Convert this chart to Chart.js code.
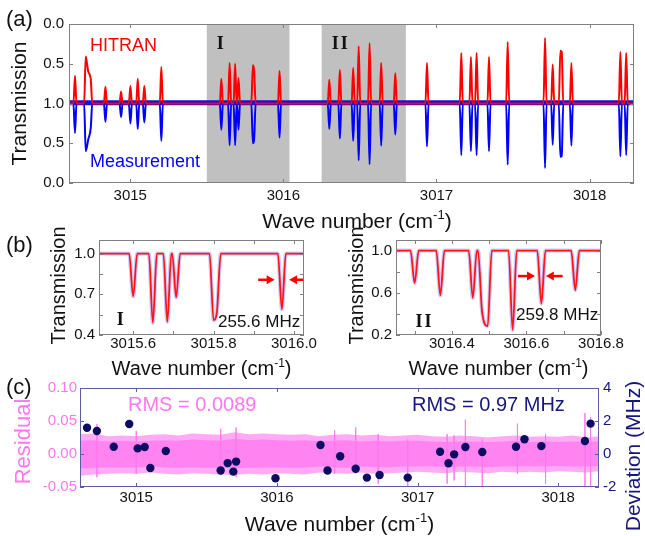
<!DOCTYPE html>
<html>
<head>
<meta charset="utf-8">
<script src="https://cdn.jsdelivr.net/npm/chart.js@4.4.1/dist/chart.umd.min.js"></script>
<style>
  html, body { margin: 0; padding: 0; background: #fff; }
  #wrap { position: relative; width: 645px; height: 536px; }
  #wrap canvas { position: absolute; left: 0; top: 0; }
</style>
</head>
<body>
<div id="wrap">
  <canvas id="ca" width="645" height="536"></canvas>
  <canvas id="cb1" width="645" height="536"></canvas>
  <canvas id="cb2" width="645" height="536"></canvas>
  <canvas id="cc" width="645" height="536"></canvas>
</div>
<script>
// ---- panel (a): overview, HITRAN up / measurement down ----
const lineCenter = [3014.639, 3014.709, 3014.726, 3014.742, 3014.838, 3014.940, 3015.001, 3015.049, 3015.092, 3015.203,
  3015.595, 3015.649, 3015.685, 3015.707, 3015.801, 3015.809, 3015.975, 3016.300, 3016.369, 3016.456,
  3016.492, 3016.563, 3016.639, 3016.731, 3016.938, 3017.162, 3017.225, 3017.262, 3017.343, 3017.465,
  3017.709, 3017.759, 3017.809, 3017.818, 3017.881, 3018.201, 3018.239];
const hitranT = [0.65, 0.41, 0.60, 0.69, 0.79, 0.85, 0.78, 0.69, 0.78, 0.54,
  0.69, 0.49, 0.50, 0.68, 0.52, 0.58, 0.59, 0.70, 0.58, 0.555,
  0.28, 0.24, 0.49, 0.62, 0.49, 0.365, 0.415, 0.365, 0.415, 0.225,
  0.175, 0.51, 0.335, 0.35, 0.49, 0.35, 0.365];
const measT = [0.63, 0.40, 0.55, 0.69, 0.77, 0.83, 0.75, 0.68, 0.76, 0.53,
  0.67, 0.475, 0.475, 0.67, 0.50, 0.55, 0.57, 0.68, 0.56, 0.53,
  0.285, 0.235, 0.47, 0.61, 0.46, 0.35, 0.40, 0.35, 0.40, 0.23,
  0.19, 0.48, 0.33, 0.34, 0.47, 0.335, 0.35];
const regionStart = [3015.50, 3016.25];
const regionEnd = [3016.04, 3016.80];
const regionName = ['I', 'II'];
const aXTicks = [3015, 3016, 3017, 3018];
const aYTicks = [-1, -0.5, 0, 0.5, 1];

// ---- panel (b): zooms of regions I and II ----
const b1Center = [3015.600, 3015.649, 3015.685, 3015.707, 3015.800, 3015.808, 3015.970];
const b1T = [0.685, 0.490, 0.497, 0.678, 0.510, 0.560, 0.590];
const b2Center = [3016.300, 3016.369, 3016.456, 3016.481, 3016.496, 3016.563, 3016.640, 3016.731];
const b2T = [0.693, 0.576, 0.551, 0.420, 0.285, 0.247, 0.498, 0.624];
const b1XTicks = [3015.6, 3015.8, 3016.0];
const b1XMinor = [3015.6, 3015.7, 3015.8, 3015.9, 3016.0];
const b1YTicks = [0.4, 0.7, 1.0];
const b1YMinor = [0.4, 0.55, 0.7, 0.85, 1.0];
const b2XTicks = [3016.4, 3016.6, 3016.8];
const b2XMinor = [3016.3, 3016.4, 3016.5, 3016.6, 3016.7, 3016.8];
const b2YTicks = [0.2, 0.6, 1.0];
const b2YMinor = [0.2, 0.4, 0.6, 0.8, 1.0];
const b1Width = ['255.6 MHz'];
const b2Width = ['259.8 MHz'];

// ---- panel (c): residual band and line-centre deviations ----
const resX = [3014.6, 3014.7, 3014.8, 3014.9, 3015.0, 3015.1, 3015.2, 3015.3, 3015.4, 3015.5,
  3015.6, 3015.7, 3015.8, 3015.9, 3016.0, 3016.1, 3016.2, 3016.3, 3016.4, 3016.5,
  3016.6, 3016.7, 3016.8, 3016.9, 3017.0, 3017.1, 3017.2, 3017.3, 3017.4, 3017.5,
  3017.6, 3017.7, 3017.8, 3017.9, 3018.0, 3018.1, 3018.2, 3018.3];
const resOuterHi = [0.030, 0.031, 0.027, 0.028, 0.027, 0.029, 0.030, 0.028, 0.031, 0.030,
  0.029, 0.033, 0.030, 0.031, 0.030, 0.029, 0.030, 0.027, 0.029, 0.030,
  0.028, 0.029, 0.027, 0.028, 0.029, 0.027, 0.026, 0.028, 0.027, 0.025,
  0.027, 0.028, 0.026, 0.027, 0.026, 0.028, 0.025, 0.027];
const resOuterLo = [-0.033, -0.031, -0.030, -0.029, -0.030, -0.028, -0.030, -0.031, -0.029, -0.030,
  -0.031, -0.032, -0.030, -0.031, -0.029, -0.030, -0.031, -0.028, -0.029, -0.030,
  -0.028, -0.030, -0.029, -0.028, -0.027, -0.028, -0.029, -0.027, -0.028, -0.029,
  -0.027, -0.028, -0.027, -0.028, -0.026, -0.027, -0.028, -0.026];
const resInnerHi = [0.020, 0.021, 0.019, 0.020, 0.019, 0.020, 0.021, 0.020, 0.022, 0.021,
  0.020, 0.023, 0.021, 0.022, 0.021, 0.020, 0.021, 0.019, 0.020, 0.021,
  0.019, 0.020, 0.019, 0.020, 0.020, 0.019, 0.018, 0.019, 0.019, 0.018,
  0.019, 0.020, 0.018, 0.019, 0.018, 0.019, 0.018, 0.019];
const resInnerLo = [-0.022, -0.021, -0.020, -0.020, -0.020, -0.019, -0.020, -0.021, -0.020, -0.021,
  -0.021, -0.022, -0.021, -0.021, -0.020, -0.021, -0.021, -0.019, -0.020, -0.021,
  -0.019, -0.020, -0.020, -0.019, -0.019, -0.019, -0.020, -0.019, -0.019, -0.020,
  -0.019, -0.019, -0.019, -0.019, -0.018, -0.019, -0.019, -0.018];
const spikeX = [3014.72, 3015.00, 3015.60, 3015.71, 3016.41, 3016.56, 3016.72, 3016.93, 3017.21, 3017.26,
  3017.34, 3017.46, 3017.71, 3017.91, 3018.19, 3018.23];
const spikeHi = [0.045, 0.035, 0.038, 0.040, 0.036, 0.040, 0.030, 0.022, 0.030, 0.028,
  0.052, 0.022, 0.046, 0.030, 0.062, 0.056];
const spikeLo = [-0.035, -0.030, -0.032, -0.035, -0.030, -0.030, -0.045, -0.050, -0.045, -0.040,
  -0.050, -0.050, -0.030, -0.045, -0.050, -0.050];
const devX = [3014.65, 3014.72, 3014.84, 3014.95, 3015.01, 3015.06, 3015.10, 3015.21, 3015.60, 3015.65,
  3015.69, 3015.71, 3015.99, 3016.31, 3016.36, 3016.45, 3016.56, 3016.64, 3016.73, 3016.93,
  3017.16, 3017.22, 3017.26, 3017.34, 3017.46, 3017.70, 3017.76, 3017.88, 3018.19, 3018.23];
const devMHz = [1.59, 1.39, 0.44, 1.82, 0.34, 0.42, -0.85, 0.18, -1.00, -0.55,
  -1.07, -0.46, -1.47, 0.55, -1.00, -0.14, -0.89, -1.43, -1.27, -1.43,
  0.14, -0.56, -0.02, 0.42, 0.12, 0.44, 0.89, 0.48, 0.79, 1.84];
const cXTicks = [3015, 3016, 3017, 3018];
const cYTicks = [-0.05, 0, 0.05, 0.10];
const cY2Ticks = [-2, 0, 2, 4];
const rmsLabels = ['RMS = 0.0089', 'RMS = 0.97 MHz'];

const W = 645, H = 536;
const X_MIN = 3014.6, X_MAX = 3018.29;
const SANS = '"Liberation Sans", Arial, sans-serif';
const SERIF = '"Liberation Serif", "Times New Roman", serif';
const RED = '#ff0000', BLUE = '#0000ff', PINK = '#ff77ee', NAVY = '#16167e';

Chart.defaults.font.family = SANS;

// builds the drawn trace from the read line centres and transmissions
function profile(centers, vals, w, xmin, xmax) {
  const pts = [{x: xmin, y: 1}];
  for (let i = 0; i < centers.length; i++) {
    const c = centers[i];
    const joinPrev = i > 0 && centers[i - 1] + w > c - w;
    const joinNext = i < centers.length - 1 && c + w > centers[i + 1] - w;
    if (!joinPrev) pts.push({x: c - w, y: 1});
    pts.push({x: c, y: vals[i]});
    if (!joinNext) pts.push({x: c + w, y: 1});
  }
  pts.push({x: xmax, y: 1});
  return pts;
}

// axis boxes reach from the canvas edge to the plot frame, so labels are not clipped
function scale(pos, size, min, max, ticks, fmt, padding, color) {
  return {
    type: 'linear', position: pos, min, max,
    grid: {display: false, drawTicks: false}, border: {display: false},
    ticks: {autoSkip: false, maxRotation: 0, padding, color: color || '#111',
      font: {family: SANS, size: 15}, callback: fmt},
    afterBuildTicks: s => { s.ticks = ticks.map(v => ({value: v})); },
    afterFit: s => { if (s.isHorizontal()) s.height = size; else s.width = size; }
  };
}

function baseOptions(area, scales, hasRight) {
  return {
    responsive: false, animation: false, devicePixelRatio: 1, events: [],
    layout: {padding: {left: 0, top: area.top, right: hasRight ? 0 : W - area.right, bottom: 0}},
    plugins: {legend: {display: false}, tooltip: {enabled: false}},
    elements: {point: {radius: 0}},
    scales
  };
}

function frame(chart, color, xMarks, yMarks, y2Marks) {
  const {ctx, chartArea: a, scales} = chart;
  const len = 4;
  ctx.save();
  ctx.strokeStyle = color;
  ctx.lineWidth = 1;
  ctx.strokeRect(a.left + 0.5, a.top + 0.5, a.right - a.left - 1, a.bottom - a.top - 1);
  ctx.beginPath();
  xMarks.forEach(v => {
    const p = Math.round(scales.x.getPixelForValue(v)) + 0.5;
    ctx.moveTo(p, a.bottom); ctx.lineTo(p, a.bottom - len);
    ctx.moveTo(p, a.top); ctx.lineTo(p, a.top + len);
  });
  yMarks.forEach(v => {
    const p = Math.round(scales.y.getPixelForValue(v)) + 0.5;
    ctx.moveTo(a.left, p); ctx.lineTo(a.left + len, p);
    if (!y2Marks) { ctx.moveTo(a.right, p); ctx.lineTo(a.right - len, p); }
  });
  if (y2Marks) {
    y2Marks.forEach(v => {
      const p = Math.round(scales.y2.getPixelForValue(v)) + 0.5;
      ctx.moveTo(a.right, p); ctx.lineTo(a.right - len, p);
    });
  }
  ctx.stroke();
  ctx.restore();
}

function text(ctx, str, x, y, font, color, spacing) {
  ctx.save();
  ctx.font = font; ctx.fillStyle = color;
  if (spacing) ctx.letterSpacing = spacing;
  ctx.textAlign = 'left'; ctx.textBaseline = 'middle';
  ctx.fillText(str, x, y);
  ctx.restore();
}

function vText(ctx, str, cx, cy, font, color) {
  ctx.save();
  ctx.translate(cx, cy); ctx.rotate(-Math.PI / 2);
  ctx.font = font; ctx.fillStyle = color;
  ctx.textAlign = 'center'; ctx.textBaseline = 'middle';
  ctx.fillText(str, 0, 0);
  ctx.restore();
}

// "Wave number (cm-1)" with a raised -1
function waveTitle(ctx, cx, baseY, size) {
  const a = 'Wave number (cm', s = '-1', b = ')';
  ctx.save();
  ctx.fillStyle = '#111'; ctx.textBaseline = 'alphabetic'; ctx.textAlign = 'left';
  ctx.font = size + 'px ' + SANS;
  const wa = ctx.measureText(a).width, wb = ctx.measureText(b).width;
  ctx.font = Math.round(size * 0.6) + 'px ' + SANS;
  const ws = ctx.measureText(s).width;
  let x = cx - (wa + ws + wb) / 2;
  ctx.font = size + 'px ' + SANS;
  ctx.fillText(a, x, baseY); x += wa;
  ctx.font = Math.round(size * 0.6) + 'px ' + SANS;
  ctx.fillText(s, x, baseY - size * 0.42); x += ws;
  ctx.font = size + 'px ' + SANS;
  ctx.fillText(b, x, baseY);
  ctx.restore();
}

function arrow(ctx, x0, x1, y, color) {
  const d = Math.sign(x1 - x0);
  ctx.save();
  ctx.strokeStyle = color; ctx.fillStyle = color; ctx.lineWidth = 2.5;
  ctx.beginPath(); ctx.moveTo(x0, y); ctx.lineTo(x1 - d * 6, y); ctx.stroke();
  ctx.beginPath();
  ctx.moveTo(x1, y); ctx.lineTo(x1 - d * 8, y - 4.5); ctx.lineTo(x1 - d * 8, y + 4.5);
  ctx.closePath(); ctx.fill();
  ctx.restore();
}

// ================= (a) =================
const areaA = {left: 69, top: 24, right: 634, bottom: 183};
const redA = profile(lineCenter, hitranT, 0.010, X_MIN, X_MAX).map(p => ({x: p.x, y: 1 - p.y}));
const blueA = profile(lineCenter, measT, 0.010, X_MIN, X_MAX).map(p => ({x: p.x, y: p.y - 1}));

new Chart(document.getElementById('ca'), {
  type: 'line',
  data: {datasets: [
    {data: redA, borderColor: RED, borderWidth: 2, cubicInterpolationMode: 'monotone'},
    {data: blueA, borderColor: BLUE, borderWidth: 2, cubicInterpolationMode: 'monotone'},
    {data: [{x: X_MIN, y: 0.008}, {x: X_MAX, y: 0.008}], borderColor: '#1414d8', borderWidth: 5}
  ]},
  options: baseOptions(areaA, {
    x: scale('bottom', H - areaA.bottom, X_MIN, X_MAX, aXTicks, v => String(v), 4),
    y: scale('left', areaA.left, -1, 1, aYTicks, v => (1 - Math.abs(v)).toFixed(1), 5)
  }),
  plugins: [{
    id: 'decorA',
    beforeDatasetsDraw(chart) {
      const {ctx, chartArea: a, scales: {x}} = chart;
      ctx.save(); ctx.fillStyle = '#c0c0c0';
      regionStart.forEach((s, i) => {
        const x0 = x.getPixelForValue(s), x1 = x.getPixelForValue(regionEnd[i]);
        ctx.fillRect(x0, a.top, x1 - x0, a.bottom - a.top);
      });
      ctx.restore();
    },
    afterDraw(chart) {
      const {ctx, chartArea: a, scales: {x}} = chart;
      frame(chart, '#808080', aXTicks, aYTicks);
      regionStart.forEach((s, i) => {
        text(ctx, regionName[i], x.getPixelForValue(s) + 10, a.top + 20, 'bold 18px ' + SERIF, '#111', '2px');
      });
      text(ctx, 'HITRAN', a.left + 21, a.top + 22, '18px ' + SANS, RED);
      text(ctx, 'Measurement', a.left + 21, a.bottom - 21, '18px ' + SANS, BLUE);
      text(ctx, '(a)', 6, 20, '22px ' + SANS, '#111');
      vText(ctx, 'Transmission', 20, (a.top + a.bottom) / 2, '21px ' + SANS, '#111');
      waveTitle(ctx, 357, 228, 21);
    }
  }]
});

// ================= (b) =================
function bPanel(id, area, centers, trans, w, xmin, xmax, ymin, ymax, xt, xm, yt, ym, label, ann) {
  const trace = profile(centers, trans, w, xmin, xmax);
  new Chart(document.getElementById(id), {
    type: 'line',
    data: {datasets: [
      {data: trace, borderColor: '#ff1515', borderWidth: 1.8, cubicInterpolationMode: 'monotone'},
      {data: trace, borderColor: 'rgba(110,110,255,0.35)', borderWidth: 4, cubicInterpolationMode: 'monotone'}
    ]},
    options: baseOptions(area, {
      x: scale('bottom', H - area.bottom, xmin, xmax, xt, v => v.toFixed(1), 0),
      y: scale('left', area.left, ymin, ymax, yt, v => v.toFixed(1), 4)
    }),
    plugins: [{
      id: id + 'Decor',
      afterDraw(chart) {
        const {ctx, chartArea: a, scales: {x, y}} = chart;
        frame(chart, '#808080', xm, ym);
        ann.arrows.forEach(r => arrow(ctx, x.getPixelForValue(r[0]), x.getPixelForValue(r[1]), y.getPixelForValue(ann.arrowY), RED));
        text(ctx, ann.width, x.getPixelForValue(ann.textX), y.getPixelForValue(ann.textY), '17px ' + SANS, '#111');
        text(ctx, label, x.getPixelForValue(ann.labelX), y.getPixelForValue(ann.labelY), 'bold 18px ' + SERIF, '#111', '2px');
        vText(ctx, 'Transmission', a.left - ann.titleGap, (a.top + a.bottom) / 2 - 2, '20px ' + SANS, '#111');
        waveTitle(ctx, (a.left + a.right) / 2, 375, 20);
        if (ann.panel) text(ctx, ann.panel, 6, 246, '22px ' + SANS, '#111');
      }
    }]
  });
}

bPanel('cb1', {left: 99, top: 240, right: 304, bottom: 335}, b1Center, b1T, 0.010,
  3015.515, 3016.025, 0.4, 1.1, b1XTicks, b1XMinor, b1YTicks, b1YMinor, regionName[0],
  {arrows: [[3015.911, 3015.952], [3016.023, 3015.988]], arrowY: 0.807, titleGap: 40,
   width: b1Width[0], textX: 3015.811, textY: 0.495, labelX: 3015.559, labelY: 0.51, panel: '(b)'});

bPanel('cb2', {left: 396, top: 240, right: 601, bottom: 335}, b2Center, b2T, 0.011,
  3016.25, 3016.80, 0.2, 1.1, b2XTicks, b2XMinor, b2YTicks, b2YMinor, regionName[1],
  {arrows: [[3016.577, 3016.623], [3016.697, 3016.652]], arrowY: 0.758, titleGap: 39,
   width: b2Width[0], textX: 3016.572, textY: 0.388, labelX: 3016.302, labelY: 0.323});

// ================= (c) =================
const areaC = {left: 80, top: 388, right: 599, bottom: 487};
const pts = (xs, ys) => xs.map((v, i) => ({x: v, y: ys[i]}));
const spikes = [];
spikeX.forEach((v, i) => { spikes.push({x: v, y: spikeHi[i]}, {x: v, y: spikeLo[i]}, {x: v, y: null}); });

new Chart(document.getElementById('cc'), {
  type: 'line',
  data: {datasets: [
    {data: pts(devX, devMHz), yAxisID: 'y2', showLine: false, pointRadius: 4.2,
     pointBackgroundColor: '#0c0c62', pointBorderColor: '#0c0c62', pointBorderWidth: 0},
    {data: spikes, borderColor: 'rgba(255,120,238,0.75)', borderWidth: 1, spanGaps: false},
    {data: pts(resX, resInnerHi), borderWidth: 0, fill: '+1', backgroundColor: '#ff84f1'},
    {data: pts(resX, resInnerLo), borderWidth: 0},
    {data: pts(resX, resOuterHi), borderWidth: 0, fill: '+1', backgroundColor: '#ffaaf5'},
    {data: pts(resX, resOuterLo), borderWidth: 0}
  ]},
  options: baseOptions(areaC, {
    x: scale('bottom', H - areaC.bottom, X_MIN, X_MAX, cXTicks, v => String(v), 1.5),
    y: scale('left', areaC.left, -0.05, 0.10, cYTicks, v => v.toFixed(2), 3, PINK),
    y2: scale('right', W - areaC.right, -2, 4, cY2Ticks, v => String(v), 4, NAVY)
  }, true),
  plugins: [{
    id: 'decorC',
    afterDraw(chart) {
      const {ctx, chartArea: a} = chart;
      frame(chart, '#5c5ca6', cXTicks, cYTicks, cY2Ticks);
      text(ctx, rmsLabels[0], a.left + 48, a.top + 17, '20px ' + SANS, PINK);
      text(ctx, rmsLabels[1], a.left + 332, a.top + 17, '20px ' + SANS, NAVY);
      text(ctx, '(c)', 6, 388, '22px ' + SANS, '#111');
      vText(ctx, 'Residual', 24, (a.top + a.bottom) / 2 + 4, '22px ' + SANS, PINK);
      vText(ctx, 'Deviation (MHz)', 634, 456, '21px ' + SANS, NAVY);
      waveTitle(ctx, (a.left + a.right) / 2, 531, 21);
    }
  }]
});
</script>
</body>
</html>
